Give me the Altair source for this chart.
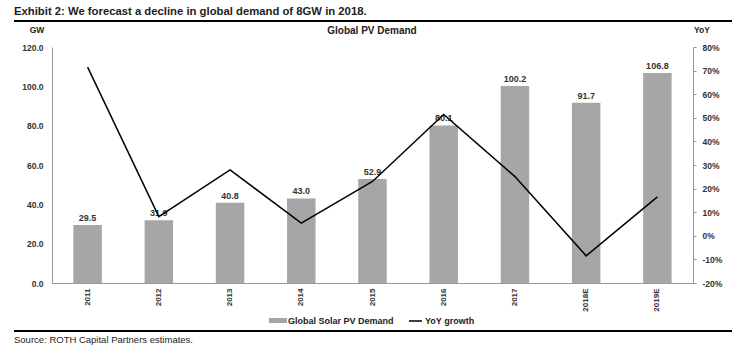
import altair as alt
import pandas as pd

years = ["2011", "2012", "2013", "2014", "2015", "2016", "2017", "2018E", "2019E"]
demand_gw = [29.5, 31.9, 40.8, 43.0, 52.9, 80.1, 100.2, 91.7, 106.8]
yoy_pct = [71.5, 8.1, 27.9, 5.4, 23.0, 51.4, 25.1, -8.5, 16.5]

df = pd.DataFrame({"year": years, "gw": demand_gw, "yoy": yoy_pct})

FONT = "Liberation Sans"
W, H = 641, 236

xenc = alt.X("year:O", sort=years, title=None,
             scale=alt.Scale(paddingInner=0.6, paddingOuter=0.3),
             axis=alt.Axis(labelAngle=-90, labelFontSize=8, labelFontWeight="bold",
                           labelColor="#333333", ticks=False, domainColor="#999999",
                           labelPadding=5, labelFont=FONT))

left_axis = alt.Axis(orient="left", values=[0, 20, 40, 60, 80, 100, 120], format=".1f",
                     grid=False, ticks=False, domainColor="#999999", labelOverlap=False,
                     labelFontSize=8.5, labelFontWeight="bold", labelColor="#333333",
                     labelPadding=9, labelFont=FONT)
left_scale = alt.Scale(domain=[0, 120])

base = alt.Chart(df)

bars = base.mark_bar(color="#A6A6A6").encode(
    x=xenc,
    y=alt.Y("gw:Q", title=None, scale=left_scale, axis=left_axis),
)

labels = base.mark_text(dy=-7, fontSize=9, fontWeight="bold", color="#333333", font=FONT).encode(
    x=xenc,
    y=alt.Y("gw:Q", title=None, scale=left_scale, axis=left_axis),
    text=alt.Text("gw:Q", format=".1f"),
)

left = alt.layer(bars, labels)

line = base.mark_line(color="#000000", strokeWidth=1.5).encode(
    x=xenc,
    y=alt.Y("yoy:Q", title=None, scale=alt.Scale(domain=[-20, 80]),
            axis=alt.Axis(orient="right", values=list(range(-20, 81, 10)),
                          labelExpr="datum.value + '%'", grid=False, tickSize=3,
                          tickColor="#999999", domainColor="#999999", labelOverlap=False,
                          labelFontSize=8.5, labelFontWeight="bold", labelColor="#333333",
                          labelPadding=6, labelFont=FONT)),
)

one = pd.DataFrame({"k": [0]})


def txt(s, x, y, size, weight="normal", align="left", baseline="middle"):
    return alt.Chart(pd.DataFrame({"t": [s]})).mark_text(
        fontSize=size, fontWeight=weight, align=align, baseline=baseline,
        color="#222222", font=FONT
    ).encode(x=alt.value(x), y=alt.value(y), text="t:N")


def rule(x1, x2, y, w):
    return alt.Chart(one).mark_rule(color="#000000", strokeWidth=w).encode(
        x=alt.value(x1), x2=alt.value(x2), y=alt.value(y))


decor = [
    txt("Exhibit 2: We forecast a decline in global demand of 8GW in 2018.", -38, -35, 11.3, "bold"),
    rule(-38, 680, -26, 2),
    txt("Global PV Demand", 320, -16, 10, "bold", align="center"),
    txt("GW", -15, -17, 8.5, "bold", align="center"),
    txt("YoY", 650, -17, 8.5, "bold", align="center"),
    alt.Chart(one).mark_rect(color="#A6A6A6").encode(
        x=alt.value(217), x2=alt.value(235), y=alt.value(271), y2=alt.value(276)),
    txt("Global Solar PV Demand", 236, 274, 9, "bold"),
    alt.Chart(one).mark_rule(color="#000000", strokeWidth=1.5).encode(
        x=alt.value(357), x2=alt.value(370), y=alt.value(274)),
    txt("YoY growth", 373, 274, 9, "bold"),
    rule(-38, 680, 284, 2),
    txt("Source: ROTH Capital Partners estimates.", -38, 293, 9.5),
]

chart = alt.layer(left, line, *decor).resolve_scale(y="independent").properties(
    width=W, height=H,
    autosize=alt.AutoSizeParams(type="none"),
    padding={"left": 52, "top": 47, "right": 57, "bottom": 68},
    background="white",
).configure_view(stroke=None)

chart.save("out.html", embed_options={"renderer": "svg", "actions": False})
